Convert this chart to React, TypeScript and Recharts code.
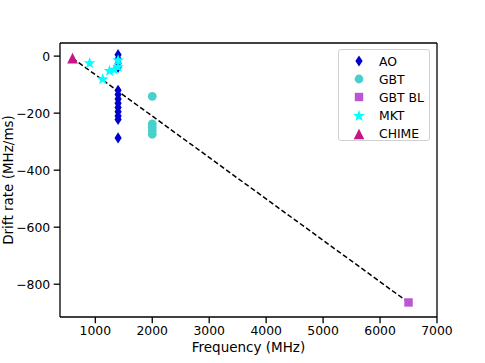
import React from 'react';
import { ScatterChart, Scatter, XAxis, YAxis, ReferenceLine, Legend, Label } from 'recharts';

// ---- data ----
const aoFreq = [1400, 1400, 1400, 1400, 1400, 1400, 1400, 1400, 1400, 1400, 1400, 1400, 1400];
const aoDrift = [5, -10, -25, -40, -120, -135, -150, -165, -180, -195, -210, -222, -287];

const gbtFreq = [2000, 2000, 2000, 2000, 2000];
const gbtDrift = [-141, -238, -250, -262, -274];

const gbtBlFreq = [6500];
const gbtBlDrift = [-864];

const mktFreq = [900, 1130, 1250, 1330, 1400, 1400];
const mktDrift = [-25, -81, -52, -48, -15, -38];

const chimeFreq = [600];
const chimeDrift = [-7];

const fitLine = [
  { x: 600, y: -7 },
  { x: 6500, y: -864 },
];

const xTicks = [1000, 2000, 3000, 4000, 5000, 6000, 7000];
const yTicks = [0, -200, -400, -600, -800];
const xDomain: [number, number] = [380, 7000];
const yDomain: [number, number] = [-915, 46];

const zip = (xs: number[], ys: number[]) => xs.map((x, i) => ({ x, y: ys[i] }));
const aoData = zip(aoFreq, aoDrift);
const gbtData = zip(gbtFreq, gbtDrift);
const gbtBlData = zip(gbtBlFreq, gbtBlDrift);
const mktData = zip(mktFreq, mktDrift);
const chimeData = zip(chimeFreq, chimeDrift);

const COLORS = {
  AO: '#0000CD',
  GBT: '#48D1CC',
  GBTBL: '#BA55D3',
  MKT: '#00FFFF',
  CHIME: '#C71585',
};

const FONT = 'DejaVu Sans';
const TICK_FS = 12.4;
const LABEL_FS = 13.5;

// ---- marker shapes ----
const diamondPath = (cx: number, cy: number) =>
  `M${cx},${cy - 5.6}L${cx + 3.6},${cy}L${cx},${cy + 5.6}L${cx - 3.6},${cy}Z`;
const starPath = (cx: number, cy: number) => {
  const R = 6.2;
  const r = 2.5;
  let d = '';
  for (let i = 0; i < 10; i++) {
    const rad = i % 2 === 0 ? R : r;
    const a = -Math.PI / 2 + (i * Math.PI) / 5;
    d += `${i === 0 ? 'M' : 'L'}${cx + rad * Math.cos(a)},${cy + rad * Math.sin(a)}`;
  }
  return d + 'Z';
};
const trianglePath = (cx: number, cy: number) =>
  `M${cx},${cy - 5.3}L${cx + 5.3},${cy + 5.3}L${cx - 5.3},${cy + 5.3}Z`;

const DiamondShape = (p: any) => <path d={diamondPath(p.cx, p.cy)} fill={COLORS.AO} />;
const CircleShape = (p: any) => <circle cx={p.cx} cy={p.cy} r={4.4} fill={COLORS.GBT} />;
const SquareShape = (p: any) => (
  <rect x={p.cx - 4.2} y={p.cy - 4.2} width={8.4} height={8.4} fill={COLORS.GBTBL} />
);
const StarShape = (p: any) => <path d={starPath(p.cx, p.cy)} fill={COLORS.MKT} />;
const TriangleShape = (p: any) => <path d={trianglePath(p.cx, p.cy)} fill={COLORS.CHIME} />;

const legendItems = [
  { name: 'AO', marker: (c: number) => <path d={diamondPath(c, c)} fill={COLORS.AO} /> },
  { name: 'GBT', marker: (c: number) => <circle cx={c} cy={c} r={4.4} fill={COLORS.GBT} /> },
  {
    name: 'GBT BL',
    marker: (c: number) => <rect x={c - 4.2} y={c - 4.2} width={8.4} height={8.4} fill={COLORS.GBTBL} />,
  },
  { name: 'MKT', marker: (c: number) => <path d={starPath(c, c)} fill={COLORS.MKT} /> },
  { name: 'CHIME', marker: (c: number) => <path d={trianglePath(c, c)} fill={COLORS.CHIME} /> },
];

const LegendBox = () => (
  <div
    style={{
      width: 92,
      height: 92,
      boxSizing: 'border-box',
      border: '1px solid #d0d0d0',
      borderRadius: 3,
      background: 'rgba(255,255,255,0.8)',
      paddingTop: 2,
      fontFamily: FONT,
      fontSize: TICK_FS,
      color: '#000',
    }}
  >
    {legendItems.map((it) => (
      <div key={it.name} style={{ display: 'flex', alignItems: 'center', height: 18.2 }}>
        <svg width={14} height={14} style={{ marginLeft: 13, marginRight: 13, flex: 'none' }}>
          {it.marker(7)}
        </svg>
        <span style={{ whiteSpace: 'nowrap' }}>{it.name}</span>
      </div>
    ))}
  </div>
);

const fmt = (v: number) => (v < 0 ? '\u2212' + Math.abs(v) : String(v));

const axisStroke = { stroke: '#000', strokeWidth: 1.3 };
const tickStyle = { fill: '#000', fontSize: TICK_FS, fontFamily: FONT };

export default function App() {
  return (
    <div style={{ position: 'absolute', left: 0, top: 0, width: 485, height: 363, background: '#fff' }}>
      <ScatterChart
        width={485}
        height={363}
        margin={{ top: 43, right: 48, bottom: 0, left: 0 }}
        style={{ fontFamily: FONT }}
      >
        <XAxis
          dataKey="x"
          type="number"
          domain={xDomain}
          ticks={xTicks}
          allowDataOverflow
          height={46}
          tickSize={6.3}
          tickMargin={3}
          axisLine={axisStroke}
          tickLine={axisStroke}
          tick={tickStyle}
        >
          <Label
            value="Frequency (MHz)"
            position="insideBottom"
            offset={11}
            style={{ fill: '#000', fontSize: LABEL_FS, fontFamily: FONT }}
          />
        </XAxis>
        <YAxis
          dataKey="y"
          type="number"
          domain={yDomain}
          ticks={yTicks}
          allowDataOverflow
          width={60}
          tickSize={6.3}
          tickMargin={3.5}
          axisLine={axisStroke}
          tickLine={axisStroke}
          tick={tickStyle}
          tickFormatter={fmt}
        >
          <Label
            value="Drift rate (MHz/ms)"
            angle={-90}
            position="insideLeft"
            offset={8}
            style={{ fill: '#000', fontSize: LABEL_FS, fontFamily: FONT, textAnchor: 'middle' }}
          />
        </YAxis>
        <Scatter name="AO" data={aoData} shape={DiamondShape} isAnimationActive={false} />
        <Scatter name="GBT" data={gbtData} shape={CircleShape} isAnimationActive={false} />
        <Scatter name="GBT BL" data={gbtBlData} shape={SquareShape} isAnimationActive={false} />
        <Scatter name="MKT" data={mktData} shape={StarShape} isAnimationActive={false} />
        <Scatter name="CHIME" data={chimeData} shape={TriangleShape} isAnimationActive={false} />
        <ReferenceLine
          segment={fitLine}
          stroke="#000"
          strokeWidth={1.5}
          strokeDasharray="5 2.6"
          ifOverflow="visible"
        />
        <ReferenceLine y={yDomain[1]} stroke="#000" strokeWidth={1.3} ifOverflow="visible" />
        <ReferenceLine x={xDomain[1]} stroke="#000" strokeWidth={1.3} ifOverflow="visible" />
        <Legend
          layout="vertical"
          align="center"
          verticalAlign="middle"
          content={() => <LegendBox />}
          wrapperStyle={{ position: 'absolute', left: 338, top: 49, width: 92, height: 92 }}
        />
      </ScatterChart>
    </div>
  );
}
